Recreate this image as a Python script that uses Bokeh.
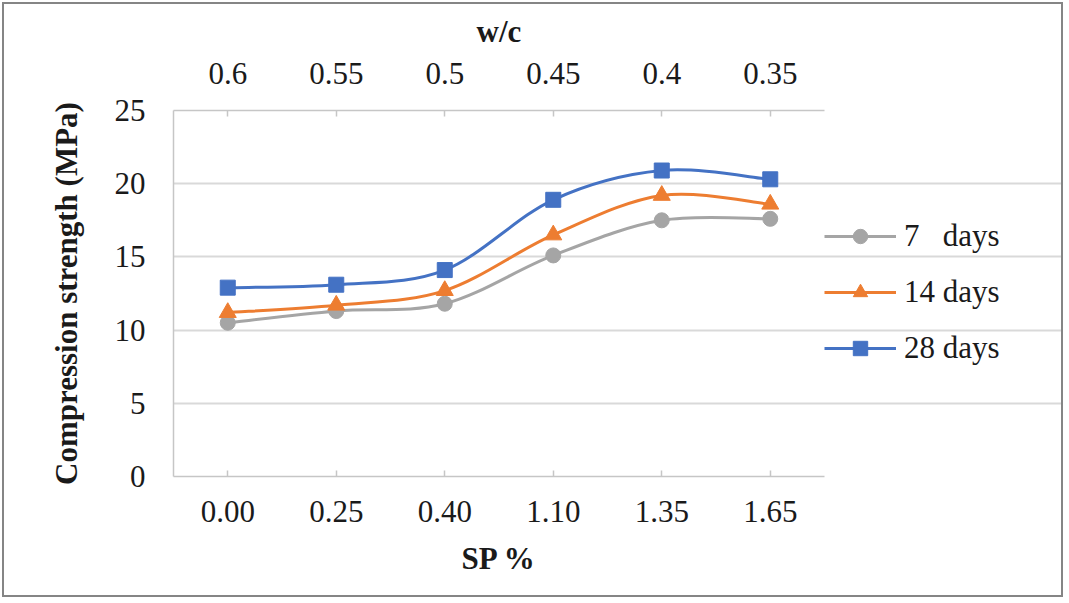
import numpy as np
from bokeh.plotting import figure
from bokeh.models import (ColumnDataSource, LinearAxis, FixedTicker, Legend,
                          LegendItem, Range1d, Title)
from bokeh.embed import file_html
from bokeh.resources import INLINE

# ---- data -------------------------------------------------------------
sp_labels = ["0.00", "0.25", "0.40", "1.10", "1.35", "1.65"]
wc_labels = ["0.6", "0.55", "0.5", "0.45", "0.4", "0.35"]
days_7 = [10.5, 11.3, 11.8, 15.1, 17.5, 17.6]
days_14 = [11.2, 11.7, 12.7, 16.5, 19.2, 18.6]
days_28 = [12.9, 13.1, 14.1, 18.9, 20.9, 20.3]
series_names = ["7   days", "14 days", "28 days"]
y_ticks = [0, 5, 10, 15, 20, 25]

FONT = "Liberation Serif"
FS_PX = 31
FS = f"{FS_PX}px"
TEXT = "#1a1a1a"
GRID = "#d9d9d9"
AXIS = "#c6c6c6"

# canvas layout (pixels)
W, H = 1061, 595
LEFT, TOP = 169, 106
CHART_W, CHART_H = 651, 366      # area used by the chart itself
RIGHT_PAD = 4                    # frame extends right to host the legend

xs = np.arange(len(sp_labels), dtype=float)
x_lo, x_hi = -0.5, len(sp_labels) - 0.5
px_per_unit = CHART_W / (x_hi - x_lo)
frame_w = W - LEFT - RIGHT_PAD
x_end = x_lo + frame_w / px_per_unit


def smooth_segments(x, y):
    """Cubic Bezier segments through the points (Catmull-Rom style)."""
    x = np.asarray(x, float)
    y = np.asarray(y, float)
    n = len(x)
    xp = np.concatenate([[x[0]], x, [x[-1]]])
    yp = np.concatenate([[y[0]], y, [y[-1]]])
    seg = dict(x0=[], y0=[], x1=[], y1=[], cx0=[], cy0=[], cx1=[], cy1=[])
    for i in range(n - 1):
        j = i + 1  # index into padded arrays
        seg["x0"].append(xp[j]); seg["y0"].append(yp[j])
        seg["x1"].append(xp[j + 1]); seg["y1"].append(yp[j + 1])
        seg["cx0"].append(xp[j] + (xp[j + 1] - xp[j - 1]) / 6)
        seg["cy0"].append(yp[j] + (yp[j + 1] - yp[j - 1]) / 6)
        seg["cx1"].append(xp[j + 1] - (xp[j + 2] - xp[j]) / 6)
        seg["cy1"].append(yp[j + 1] - (yp[j + 2] - yp[j]) / 6)
    return ColumnDataSource(seg)


def centred_title(text, em_width, standoff, valign):
    """Bold title centred over the chart area (not the whole frame)."""
    offset = CHART_W / 2 - em_width * FS_PX / 2
    return Title(text=text, align="left", offset=offset, standoff=standoff,
                 vertical_align=valign,
                 text_font=FONT, text_font_size=FS, text_font_style="bold",
                 text_color=TEXT)


p = figure(width=W, height=H, output_backend="svg", toolbar_location=None,
           x_range=Range1d(x_lo, x_end), y_range=Range1d(0, 25),
           min_border_left=LEFT, min_border_right=RIGHT_PAD,
           min_border_top=TOP, min_border_bottom=H - TOP - CHART_H)
p.styles = {"border": "2px solid #858585", "margin": "2px"}
p.outline_line_color = None
p.background_fill_color = "white"
p.border_fill_color = "white"

# ---- axes ---------------------------------------------------------------
xax = p.xaxis[0]
xax.ticker = FixedTicker(ticks=list(xs))
xax.major_label_overrides = {i: s for i, s in enumerate(sp_labels)}

top = LinearAxis(ticker=FixedTicker(ticks=list(xs)),
                 major_label_overrides={i: s for i, s in enumerate(wc_labels)})
p.add_layout(top, "above")

yax = p.yaxis[0]
yax.ticker = FixedTicker(ticks=y_ticks)
yax.axis_label = "Compression strength (MPa)"

for ax in (xax, top, yax):
    ax.axis_line_color = AXIS
    ax.axis_line_width = 1.5
    ax.major_tick_line_color = AXIS
    ax.major_tick_line_width = 1.5
    ax.major_tick_in = 6
    ax.major_tick_out = 0
    ax.minor_tick_line_color = None
    ax.major_label_text_font = FONT
    ax.major_label_text_font_size = FS
    ax.major_label_text_color = TEXT
    ax.axis_label_text_font = FONT
    ax.axis_label_text_font_size = FS
    ax.axis_label_text_font_style = "bold"
    ax.axis_label_text_color = TEXT

for ax in (xax, top):
    ax.bounds = (x_lo, x_hi)

yax.major_tick_line_color = None
yax.major_label_standoff = 28
yax.axis_label_standoff = 28
xax.major_label_standoff = 24
top.major_label_standoff = 27

# axis titles for the two category axes
p.add_layout(centred_title("w/c", 1.444, 17, "top"), "above")
p.add_layout(centred_title("SP %", 2.417, 28, "bottom"), "below")

p.xgrid.visible = False
p.ygrid.ticker = FixedTicker(ticks=y_ticks)
p.ygrid.bounds = (x_lo, x_hi)
p.ygrid.grid_line_color = GRID
p.ygrid.grid_line_width = 2

# ---- series -------------------------------------------------------------
styles = [
    (days_7, "#a5a5a5", "circle", 15),
    (days_14, "#ed7d31", "triangle", 17),
    (days_28, "#4472c4", "square", 15),
]
items = []
for name, (vals, color, marker, size) in zip(series_names, styles):
    curve = p.bezier("x0", "y0", "x1", "y1", "cx0", "cy0", "cx1", "cy1",
                     source=smooth_segments(xs, vals),
                     line_color=color, line_width=3)
    pts = p.scatter(xs, vals, marker=marker, size=size,
                    fill_color=color, line_color=color)
    items.append(LegendItem(label=name, renderers=[curve, pts]))

# legend sits just right of the chart area, vertically centred
entry_h, gap, pad = 36, 20, 4
legend_h = 3 * entry_h + 2 * gap + 2 * pad
legend = Legend(items=items,
                location=(CHART_W, (CHART_H - legend_h) // 2 + 5))
legend.border_line_color = None
legend.background_fill_alpha = 0
legend.label_text_font = FONT
legend.label_text_font_size = FS
legend.label_text_color = TEXT
legend.glyph_width = 72
legend.glyph_height = entry_h
legend.label_height = entry_h
legend.spacing = gap
legend.label_standoff = 8
legend.margin = 0
legend.padding = pad
p.add_layout(legend, "center")

open("out.html", "w").write(file_html(p, INLINE))
